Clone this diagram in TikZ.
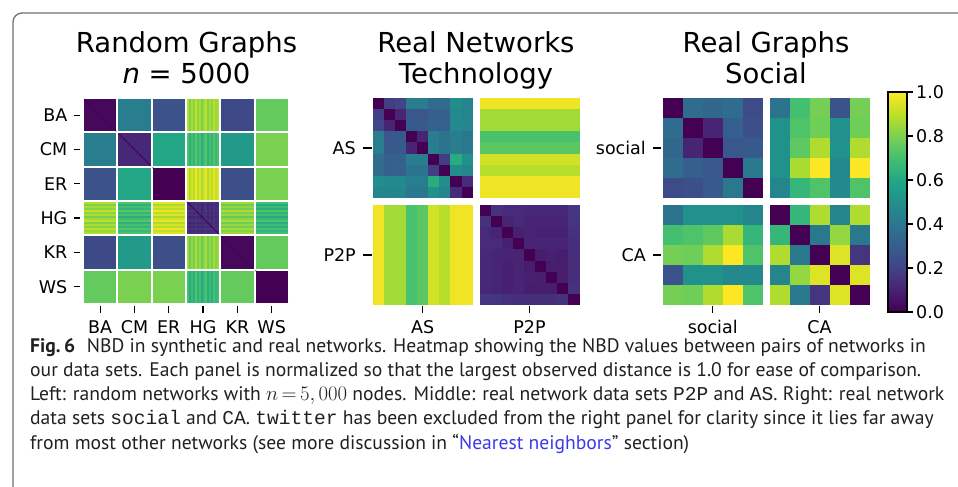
\documentclass[tikz,border=0pt]{standalone}
\usepackage{fontspec}
\setmainfont{PT Sans}
\newfontfamily\plotfont{DejaVu Sans}
\newfontfamily\codefont{Liberation Mono}

% viridis anchor colours at 0.0, 0.1, ..., 1.0
\definecolor{vir0}{HTML}{440154}
\definecolor{vir1}{HTML}{482475}
\definecolor{vir2}{HTML}{414487}
\definecolor{vir3}{HTML}{355F8D}
\definecolor{vir4}{HTML}{2A788E}
\definecolor{vir5}{HTML}{21918C}
\definecolor{vir6}{HTML}{22A884}
\definecolor{vir7}{HTML}{44BF70}
\definecolor{vir8}{HTML}{7AD151}
\definecolor{vir9}{HTML}{BDDF26}
\definecolor{vir10}{HTML}{FDE725}
\definecolor{framegray}{HTML}{6E6E6E}
\definecolor{captext}{HTML}{231F20}
\definecolor{linkblue}{HTML}{3A3AE8}

% \vircol{v}: sets colour "cc" to viridis(v), v clamped to [0,1]
\newcommand\vircol[1]{%
  \pgfmathsetmacro\vcv{min(max((#1),0),1)*10}%
  \pgfmathtruncatemacro\vcA{min(floor(\vcv),9)}%
  \pgfmathtruncatemacro\vcB{\vcA+1}%
  \pgfmathtruncatemacro\vcP{round((\vcB-\vcv)*100)}%
  \colorlet{cc}{vir\vcA!\vcP!vir\vcB}%
}

% \drawmat{x0}{y0}{cell}{\matrixmacro}: heatmap of a list of rows
\newcommand\drawmat[4]{%
  \foreach \mrow [count=\mi from 0] in #4 {%
    \foreach \mv [count=\mj from 0] in \mrow {%
      \vircol{\mv}%
      \fill[cc] ({#1+\mj*#3},{#2+\mi*#3}) rectangle ++({#3+.35},{#3+.35});
    }%
  }%
}

% block averages, random graphs (BA, CM, ER, HG, KR, WS)
\def\RGmat{{.02,.42,.25,.85,.22,.76},{.42,.11,.59,.68,.54,.8},{.25,.59,0,.92,.24,.8},{.85,.68,.92,.13,.82,.66},{.22,.54,.24,.82,.02,.76},{.76,.8,.8,.66,.76,0}}
% AS and P2P
\def\ASmat{{0,.18,.2,.42,.42,.35,.35,.48,.45},{.18,0,.1,.27,.27,.3,.3,.47,.45},{.2,.1,0,.28,.28,.31,.31,.47,.46},{.42,.27,.28,0,.1,.42,.38,.42,.4},{.42,.27,.28,.1,0,.42,.38,.42,.4},{.35,.3,.31,.42,.42,0,.18,.62,.5},{.35,.3,.31,.38,.38,.18,0,.48,.45},{.48,.47,.47,.42,.42,.62,.48,0,.12},{.45,.45,.46,.4,.4,.5,.45,.12,0}}
\def\PPmat{{0,.14,.12,.12,.11,.11,.11,.11,.16},{.14,0,.1,.12,.1,.1,.1,.1,.15},{.12,.1,0,.09,.1,.09,.09,.09,.14},{.12,.12,.09,0,.1,.1,.1,.1,.13},{.11,.1,.1,.1,0,.08,.09,.08,.13},{.11,.1,.09,.1,.08,0,.08,.08,.13},{.11,.1,.09,.1,.09,.08,0,.08,.13},{.11,.1,.09,.1,.08,.08,.08,0,.14},{.16,.15,.14,.13,.13,.13,.13,.14,0}}
\def\ASPP{.98,.86,.86,.71,.74,.93,.89,.98,.98}
% social and CA
\def\SOmat{{0,.35,.33,.35,.23},{.35,0,.1,.3,.24},{.33,.1,0,.27,.28},{.35,.3,.27,0,.4},{.23,.24,.28,.4,0}}
\def\SCmat{{.38,.7,.79,.26,.79},{.5,.72,.78,.5,.78},{.5,.75,.88,.5,.88},{.5,.87,1,.47,1},{.45,.66,.72,.47,.72}}
\def\CSmat{{.38,.5,.5,.5,.45},{.7,.72,.75,.87,.66},{.79,.78,.88,1,.72},{.26,.5,.5,.47,.47},{.79,.78,.88,1,.72}}
\def\CAmat{{0,.66,.88,.45,.88},{.66,0,.4,.84,.4},{.88,.4,0,.95,.15},{.45,.84,.95,0,.95},{.88,.4,.15,.95,0}}
% per-graph jitter along the HG rows and columns
\def\HGoff{.04,-.05,.02,-.03,.06,-.02,.03,-.06,.01,.05,-.04,.02,-.03,.05,-.01,.03}

\tikzset{
  ticklab/.style={font=\plotfont\fontsize{17.5}{20}\selectfont, inner sep=0pt},
  titlelab/.style={font=\plotfont\fontsize{27.5}{30}\selectfont, inner sep=0pt, anchor=base},
  tickmark/.style={line width=1.2pt, black},
  caplab/.style={font=\fontsize{19.6}{24}\selectfont, inner sep=0pt, anchor=base west, text=captext},
}

\begin{document}
\begin{tikzpicture}[x=1pt,y=-1pt]
\useasboundingbox (0,0) rectangle (958,487);

% outer frame
\begin{scope}
  \clip (0,0) rectangle (958,487);
  \draw[framegray, line width=1.3pt, rounded corners=9pt] (13,520) -- (13,13) -- (990,13);
\end{scope}

% ---------- random graphs panel ----------
\foreach \mrow [count=\i from 0] in \RGmat {
  \foreach \mv [count=\j from 0] in \mrow {
    \vircol{\mv}
    \fill[cc] ({84+\j*34.3},{99+\i*34.3}) rectangle ++(32.3,32.3);
  }
}
\foreach \j/\b in {0/.85,1/.68,2/.92,4/.82,5/.66} {
  \foreach \o [count=\k from 0] in \HGoff {
    \vircol{\b+\o}
    \fill[cc] ({84+\j*34.3},{99+3*34.3+\k*2.019}) rectangle ++(32.3,2.019);
    \fill[cc] ({84+3*34.3+\k*2.019},{99+\j*34.3}) rectangle ++(2.019,32.3);
  }
}
\foreach \o [count=\k from 0] in \HGoff {
  \vircol{.13+\o}
  \fill[cc, opacity=.5] ({84+3*34.3},{99+3*34.3+\k*2.019}) rectangle ++(32.3,2.019);
  \fill[cc, opacity=.5] ({84+3*34.3+\k*2.019},{99+3*34.3}) rectangle ++(2.019,32.3);
}
\foreach \i in {0,...,5} {
  \draw[vir0, line width=.8pt] ({84+\i*34.3},{99+\i*34.3}) -- ++(32.3,32.3);
}
\foreach \n [count=\i from 0] in {BA,CM,ER,HG,KR,WS} {
  \draw[tickmark] (74,{99+\i*34.3+16.15}) -- (80,{99+\i*34.3+16.15});
  \node[ticklab, anchor=east] (rgy\i) at (67.5,{99+\i*34.3+16.15}) {\n};
  \draw[tickmark] ({84+\i*34.3+16.15},306) -- ++(0,7);
  \node[ticklab, anchor=base] (rgx\i) at ({84+\i*34.3+16.15},333.5) {\n};
}
\node[titlelab] (ttlA1) at (186.5,52.7) {Random Graphs};
\node[titlelab] (ttlA2) at (186.5,83) {\textit{n} = 5000};

% ---------- technology panel ----------
\drawmat{372.7}{98}{11.111}{\ASmat}
\drawmat{479.5}{205}{11.111}{\PPmat}
\foreach \v [count=\k from 0] in \ASPP {
  \vircol{\v}
  \fill[cc] (479.5,{98+\k*11.111}) rectangle ++(100,11.45);
  \fill[cc] ({372.7+\k*11.111},205) rectangle ++(11.45,100);
}
\draw[tickmark] (363,148) -- (372,148);
\draw[tickmark] (363,255) -- (372,255);
\node[ticklab, anchor=east] (tny1) at (356,148) {AS};
\node[ticklab, anchor=east] (tny2) at (356,255) {P2P};
\draw[tickmark] (422.7,306) -- ++(0,7);
\draw[tickmark] (529.5,306) -- ++(0,7);
\node[ticklab, anchor=base] (tnx1) at (422.7,333.5) {AS};
\node[ticklab, anchor=base] (tnx2) at (529.5,333.5) {P2P};
\node[titlelab] (ttlB1) at (476,52.7) {Real Networks};
\node[titlelab] (ttlB2) at (476,83) {Technology};

% ---------- social panel ----------
\drawmat{662.7}{98}{20}{\SOmat}
\drawmat{769.5}{98}{20}{\SCmat}
\drawmat{662.7}{205}{20}{\CSmat}
\drawmat{769.5}{205}{20}{\CAmat}
\draw[tickmark] (653,148) -- (661,148);
\draw[tickmark] (653,255) -- (661,255);
\node[ticklab, anchor=east] (soy1) at (646,148) {social};
\node[ticklab, anchor=east] (soy2) at (646,255) {CA};
\draw[tickmark] (712.7,306) -- ++(0,7);
\draw[tickmark] (819.5,306) -- ++(0,7);
\node[ticklab, anchor=base] (sox1) at (712.7,333.5) {social};
\node[ticklab, anchor=base] (sox2) at (819.5,333.5) {CA};
\node[titlelab] (ttlC1) at (766,52.7) {Real Graphs};
\node[titlelab] (ttlC2) at (766,83) {Social};

% ---------- colour bar ----------
\foreach \k in {0,...,109} {
  \vircol{\k/109}
  \fill[cc] (888,{312-(\k+1)*2}) rectangle (907,{312-\k*2+.3});
}
\draw[black, line width=1.2pt] (888,92) rectangle (907,312);
\foreach \t [count=\c from 0] in {0.0,0.2,0.4,0.6,0.8,1.0} {
  \draw[tickmark] (907,{312-\c*44}) -- ++(6,0);
  \node[ticklab, anchor=west] (cb\c) at (916,{312-\c*44}) {\t};
}

% ---------- caption ----------
\node[caplab] (cap1) at (30,352) {\textbf{Fig.\,6}\hspace{.6em}NBD in synthetic and real networks. Heatmap showing the NBD values between pairs of networks in};
\node[caplab] (cap2) at (30,376.3) {our data sets. Each panel is normalized so that the largest observed distance is 1.0 for ease of comparison.};
\node[caplab] (cap3) at (30,400.6) {Left: random networks with $n\mskip3mu{=}\mskip3mu 5,000$ nodes. Middle: real network data sets {\codefont P2P} and {\codefont AS}. Right: real network};
\node[caplab] (cap4) at (30,424.9) {data sets {\codefont social} and {\codefont CA}. {\codefont twitter} has been excluded from the right panel for clarity since it lies far away};
\node[caplab] (cap5) at (30,449.2) {from most other networks (see more discussion in “{\color{linkblue}Nearest neighbors}” section)};
\end{tikzpicture}
\end{document}
